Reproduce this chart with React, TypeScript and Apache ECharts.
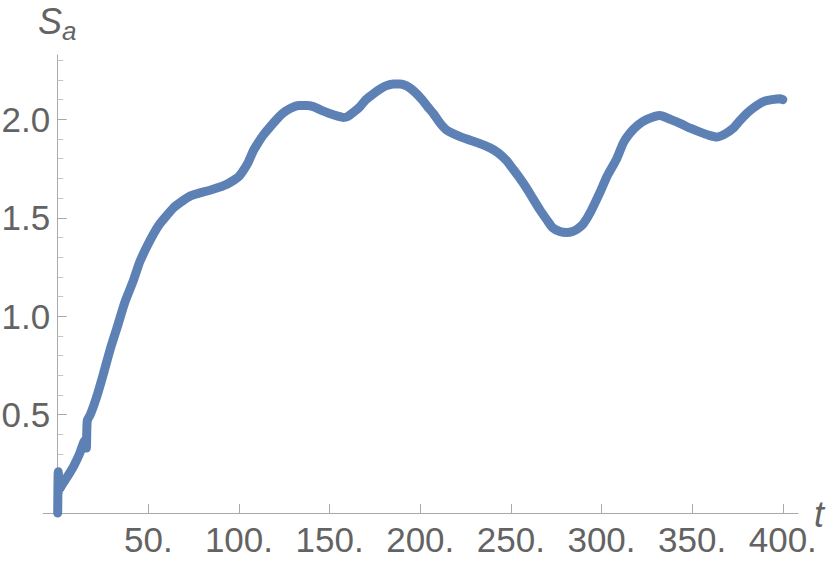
import React, { useEffect, useRef } from "react";
import * as echarts from "echarts";

const tValues = [0, 0.3, 1, 2.2, 5, 8.6, 12, 15, 15.8, 16.3, 18, 21.5, 25, 28.9, 33, 37, 41.7, 45, 49, 53, 56.4, 60, 63.8, 68, 73, 78, 84, 89, 93.2, 97, 100, 102.4, 105, 107.9, 110.5, 113.4, 117, 120.8, 124, 128.2, 133, 137.4, 141, 144.7, 150, 155, 157.6, 160, 163, 166.8, 170, 174.1, 178, 181, 185.2, 189, 192.5, 195, 198, 201, 204, 207.2, 211, 214.6, 220, 225.6, 232, 238.5, 243, 247.7, 251.4, 255, 258.7, 262, 266, 269.8, 273, 277, 280.8, 284, 287, 290, 294, 299.2, 303, 308.4, 312, 315.7, 320, 325, 332.3, 338, 343.3, 349, 354.4, 359, 363.6, 368, 372.7, 376, 380.1, 384, 389.3, 394, 398.5, 400];
const sValues = [0, 0.21, 0.12, 0.14, 0.18, 0.235, 0.3, 0.37, 0.33, 0.47, 0.5, 0.59, 0.7, 0.83, 0.95, 1.07, 1.18, 1.27, 1.35, 1.42, 1.47, 1.51, 1.55, 1.58, 1.61, 1.625, 1.64, 1.655, 1.67, 1.69, 1.71, 1.74, 1.78, 1.84, 1.88, 1.92, 1.96, 2.0, 2.03, 2.055, 2.07, 2.07, 2.065, 2.05, 2.03, 2.015, 2.01, 2.015, 2.035, 2.065, 2.1, 2.13, 2.155, 2.17, 2.18, 2.18, 2.17, 2.155, 2.13, 2.1, 2.065, 2.03, 1.98, 1.945, 1.92, 1.9, 1.88, 1.855, 1.83, 1.79, 1.745, 1.7, 1.65, 1.6, 1.54, 1.49, 1.45, 1.43, 1.425, 1.43, 1.445, 1.47, 1.53, 1.63, 1.71, 1.8, 1.88, 1.93, 1.97, 2.0, 2.02, 2.0, 1.98, 1.955, 1.935, 1.92, 1.91, 1.925, 1.955, 1.99, 2.03, 2.06, 2.09, 2.1, 2.105, 2.1];

const xTicks = [50, 100, 150, 200, 250, 300, 350, 400];
const yTicks = [0.5, 1.0, 1.5, 2.0];
const yMinorTicks = [0.1, 0.2, 0.3, 0.4, 0.6, 0.7, 0.8, 0.9, 1.1, 1.2, 1.3, 1.4, 1.6, 1.7, 1.8, 1.9, 2.1, 2.2, 2.3];

const LABEL = "#636363";
const AXIS = "#aaaaaa";
const FONT = "'Liberation Sans', Arial, sans-serif";

export default function App() {
  const ref = useRef<HTMLDivElement>(null);
  useEffect(() => {
    if (!ref.current) return;
    const chart = echarts.init(ref.current, null, { renderer: "svg" });
    const data = tValues.map((t, i) => [t, sValues[i]]);
    chart.setOption({
      animation: false,
      backgroundColor: "#ffffff",
      grid: { left: 43.2, right: 32, top: 55, bottom: 48, containLabel: false, outerBoundsMode: "none" },
      xAxis: {
        type: "value",
        min: -8,
        max: 408.4,
        splitLine: { show: false },
        axisLine: { onZero: true, lineStyle: { color: AXIS, width: 1 } },
        axisTick: { inside: true, length: 9, customValues: xTicks, lineStyle: { color: AXIS } },
        axisLabel: {
          customValues: xTicks,
          formatter: (v: number) => `${v}.`,
          color: LABEL,
          fontSize: 35,
          fontFamily: FONT,
          margin: 7,
        },
      },
      yAxis: [
        {
          type: "value",
          position: "left",
          min: -0.01,
          max: 2.327,
          splitLine: { show: false },
          axisLine: { onZero: true, lineStyle: { color: AXIS, width: 1 } },
          axisTick: { inside: true, length: 9, customValues: yTicks, lineStyle: { color: AXIS } },
          axisLabel: {
            customValues: yTicks,
            formatter: (v: number) => v.toFixed(1),
            color: LABEL,
            fontSize: 35,
            fontFamily: FONT,
            margin: -7,
          },
        },
        {
          type: "value",
          position: "left",
          min: -0.01,
          max: 2.327,
          splitLine: { show: false },
          axisLine: { show: false, onZero: true, onZeroAxisIndex: 0 },
          axisTick: { inside: true, length: 5.5, customValues: yMinorTicks, lineStyle: { color: "#c4c4c4" } },
          axisLabel: { show: false },
        },
      ],
      graphic: [
        {
          type: "text",
          x: 38,
          y: 21.5,
          style: { text: "S", font: `italic 36px ${FONT}`, fill: LABEL, verticalAlign: "middle", align: "left" },
        },
        {
          type: "text",
          x: 62,
          y: 30.5,
          style: { text: "a", font: `italic 26px ${FONT}`, fill: LABEL, verticalAlign: "middle", align: "left" },
        },
        {
          type: "text",
          x: 814,
          y: 514,
          style: { text: "t", font: `italic 36px ${FONT}`, fill: LABEL, verticalAlign: "middle", align: "left" },
        },
      ],
      series: [
        {
          type: "line",
          data,
          yAxisIndex: 0,
          showSymbol: false,
          symbol: "none",
          smooth: 0.2,
          lineStyle: { color: "#5E81B5", width: 9, join: "round", cap: "round" },
        },
      ],
    });
    return () => chart.dispose();
  }, []);
  return <div ref={ref} style={{ position: "fixed", left: 0, top: 0, width: 830, height: 563 }} />;
}
